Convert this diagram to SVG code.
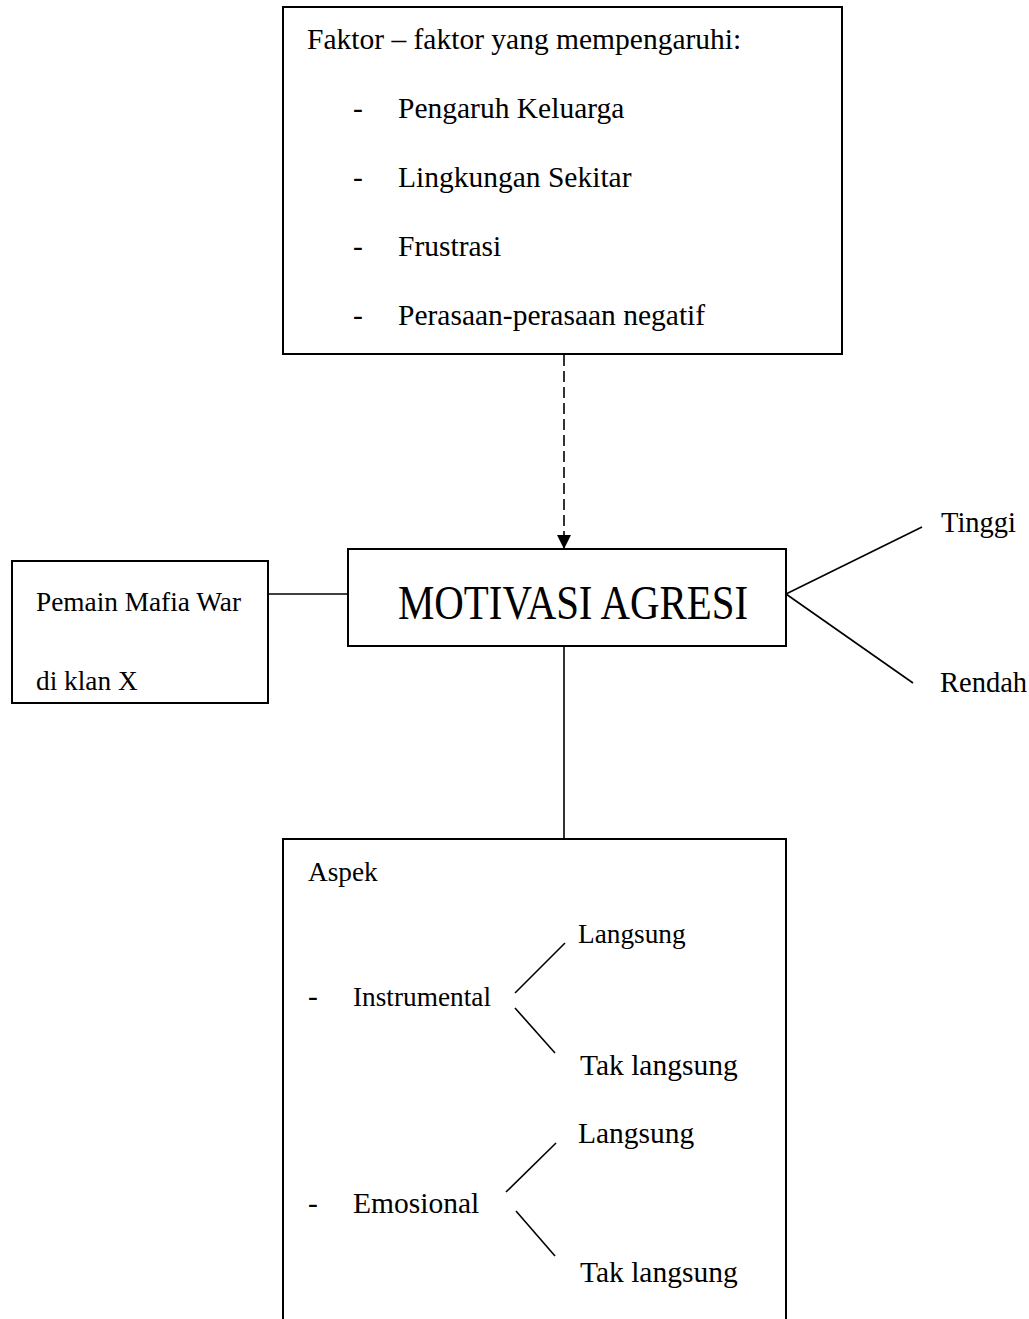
<svg xmlns="http://www.w3.org/2000/svg" width="1029" height="1319" viewBox="0 0 1029 1319">
<style>
.box{fill:#fff;stroke:#000;stroke-width:2}
.ln{stroke:#000;stroke-width:1.6;fill:none}
text{font-family:"Liberation Serif","Times New Roman",serif;fill:#000}
.t{font-size:29.5px}
.s{font-size:27.3px}
</style>
<defs>
<marker id="arr" markerWidth="14" markerHeight="14" refX="13" refY="7" orient="auto" markerUnits="userSpaceOnUse">
<path d="M0,0 L14,7 L0,14 Z" fill="#000"/>
</marker>
</defs>
<g id="connectors">
<line class="ln" x1="564" y1="355" x2="564" y2="548" stroke-dasharray="11,5" marker-end="url(#arr)"/>
<line class="ln" x1="268" y1="594" x2="348" y2="594"/>
<line class="ln" x1="786" y1="594" x2="922" y2="527"/>
<line class="ln" x1="786" y1="594" x2="913" y2="683"/>
<line class="ln" x1="564" y1="646" x2="564" y2="839"/>
</g>
<g id="faktor">
<rect class="box" x="283" y="7" width="559" height="347"/>
<text class="t" x="307" y="49">Faktor – faktor yang mempengaruhi:</text>
<text class="t" x="353" y="118">-</text><text class="t" x="398" y="118">Pengaruh Keluarga</text>
<text class="t" x="353" y="187">-</text><text class="t" x="398" y="187">Lingkungan Sekitar</text>
<text class="t" x="353" y="256">-</text><text class="t" x="398" y="256">Frustrasi</text>
<text class="t" x="353" y="325">-</text><text class="t" x="398" y="325">Perasaan-perasaan negatif</text>
</g>
<g id="pemain">
<rect class="box" x="12" y="561" width="256" height="142"/>
<text class="s" x="36" y="611">Pemain Mafia War</text>
<text class="s" x="36" y="690">di klan X</text>
</g>
<g id="motivasi">
<rect class="box" x="348" y="549" width="438" height="97"/>
<text x="398" y="619" font-size="48" textLength="350" lengthAdjust="spacingAndGlyphs">MOTIVASI AGRESI</text>
</g>
<g id="tinggi"><text x="941" y="532" font-size="28.5">Tinggi</text></g>
<g id="rendah"><text x="940" y="692" font-size="28.5">Rendah</text></g>
<g id="aspek">
<path class="box" d="M283,1320 L283,839 L786,839 L786,1320"/>
<text class="s" x="308" y="881">Aspek</text>
<text class="t" x="308" y="1006">-</text>
<text class="s" x="353" y="1006">Instrumental</text>
<text class="s" x="578" y="943">Langsung</text>
<text class="t" x="580" y="1075">Tak langsung</text>
<line class="ln" x1="515" y1="993" x2="565" y2="943"/>
<line class="ln" x1="515" y1="1008" x2="555" y2="1053"/>
<text class="t" x="308" y="1213">-</text>
<text class="t" x="353" y="1213">Emosional</text>
<text class="t" x="578" y="1143">Langsung</text>
<text class="t" x="580" y="1282">Tak langsung</text>
<line class="ln" x1="506" y1="1192" x2="556" y2="1143"/>
<line class="ln" x1="516" y1="1211" x2="555" y2="1256"/>
</g>
</svg>
